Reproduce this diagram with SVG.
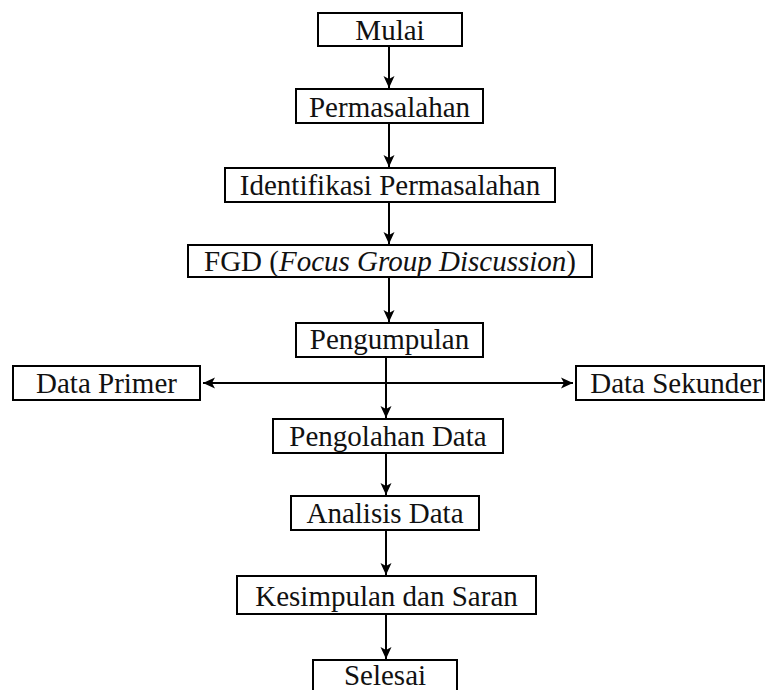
<svg xmlns="http://www.w3.org/2000/svg" width="766" height="690" viewBox="0 0 766 690">
<style>
.box{fill:#fff;stroke:#000;stroke-width:2}
.t{font-family:"Liberation Serif","Times New Roman",serif;font-size:29px;fill:#111;text-anchor:middle}
.c{stroke:#000;stroke-width:2;fill:none}
</style>
<defs>
<marker id="ah" markerUnits="userSpaceOnUse" markerWidth="14" markerHeight="14" viewBox="0 0 14 14" refX="12" refY="7" orient="auto-start-reverse">
<path d="M0,1.5 L12,7 L0,12.5 L3,7 Z" fill="#000"/>
</marker>
</defs>
<rect width="766" height="690" fill="#fff"/>
<g id="connectors">
<line class="c" x1="389" y1="46" x2="389" y2="88" marker-end="url(#ah)"/>
<line class="c" x1="389" y1="124" x2="389" y2="167" marker-end="url(#ah)"/>
<line class="c" x1="389" y1="202" x2="389" y2="244" marker-end="url(#ah)"/>
<line class="c" x1="389" y1="277" x2="389" y2="322" marker-end="url(#ah)"/>
<line class="c" x1="386" y1="357" x2="386" y2="418" marker-end="url(#ah)"/>
<line class="c" x1="203" y1="383" x2="573" y2="383" marker-start="url(#ah)" marker-end="url(#ah)"/>
<line class="c" x1="386" y1="453" x2="386" y2="495" marker-end="url(#ah)"/>
<line class="c" x1="386" y1="530" x2="386" y2="575" marker-end="url(#ah)"/>
<line class="c" x1="386" y1="614" x2="386" y2="659" marker-end="url(#ah)"/>
</g>
<g id="mulai"><rect class="box" x="318" y="13" width="144" height="33"/><text class="t" x="390" y="40">Mulai</text></g>
<g id="permasalahan"><rect class="box" x="296" y="89" width="187" height="34"/><text class="t" x="389.5" y="116.5">Permasalahan</text></g>
<g id="identifikasi"><rect class="box" x="225" y="168" width="330" height="34"/><text class="t" x="390" y="195">Identifikasi Permasalahan</text></g>
<g id="fgd"><rect class="box" x="188" y="245" width="404" height="32"/><text class="t" x="390" y="271">FGD (<tspan font-style="italic">Focus Group Discussion</tspan>)</text></g>
<g id="pengumpulan"><rect class="box" x="296" y="323" width="187" height="34"/><text class="t" x="389.5" y="349">Pengumpulan</text></g>
<g id="data-primer"><rect class="box" x="13" y="366" width="187" height="34"/><text class="t" x="106.5" y="393">Data Primer</text></g>
<g id="data-sekunder"><rect class="box" x="576" y="366" width="188" height="34"/><text class="t" x="676" y="393">Data Sekunder</text></g>
<g id="pengolahan"><rect class="box" x="273" y="419" width="230" height="34"/><text class="t" x="388" y="446">Pengolahan Data</text></g>
<g id="analisis"><rect class="box" x="291" y="496" width="188" height="34"/><text class="t" x="385" y="523">Analisis Data</text></g>
<g id="kesimpulan"><rect class="box" x="237" y="576" width="299" height="38"/><text class="t" x="386.5" y="606">Kesimpulan dan Saran</text></g>
<g id="selesai"><rect class="box" x="313" y="660" width="144" height="40"/><text class="t" x="385" y="685">Selesai</text></g>
</svg>
